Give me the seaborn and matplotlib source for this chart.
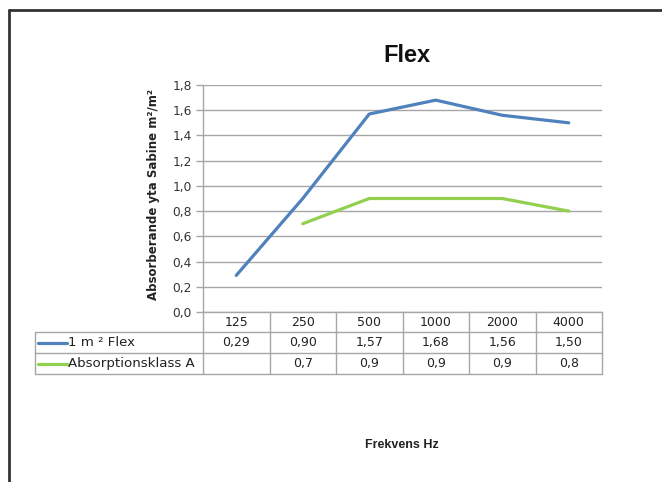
import matplotlib
matplotlib.use("Agg")
import matplotlib.pyplot as plt
import seaborn as sns
import numpy as np
import pandas as pd
from matplotlib.lines import Line2D

# ---- data ----
frequencies = ["125", "250", "500", "1000", "2000", "4000"]
flex_values = [0.29, 0.90, 1.57, 1.68, 1.56, 1.50]
klass_a_values = [np.nan, 0.7, 0.9, 0.9, 0.9, 0.8]
flex_labels = ["0,29", "0,90", "1,57", "1,68", "1,56", "1,50"]
klass_a_labels = ["", "0,7", "0,9", "0,9", "0,9", "0,8"]
series_names = ["1 m ² Flex", "Absorptionsklass A"]
y_ticks = [0.0, 0.2, 0.4, 0.6, 0.8, 1.0, 1.2, 1.4, 1.6, 1.8]

BLUE = "#4F81BD"
GREEN = "#92D050"
GRID = "#A6A6A6"
TXT = "#222222"

sns.set_theme(style="white")
plt.rcParams["font.family"] = ["DejaVu Sans"]

W, H = 662, 482
fig = plt.figure(figsize=(W / 100, H / 100), dpi=100)

def fx(px):
    return px / W

def fy(py):
    return 1 - py / H

ax_left, ax_right, ax_top, ax_bottom = 203, 602, 85, 312
ax = fig.add_axes([fx(ax_left), fy(ax_bottom), fx(ax_right - ax_left), (ax_bottom - ax_top) / H])

pos = np.arange(len(frequencies))
df = pd.DataFrame({
    "pos": np.concatenate([pos, pos]),
    "value": flex_values + klass_a_values,
    "series": [series_names[0]] * len(pos) + [series_names[1]] * len(pos),
})
sns.lineplot(data=df, x="pos", y="value", hue="series",
             palette={series_names[0]: BLUE, series_names[1]: GREEN},
             linewidth=2.3, legend=False, ax=ax)

ax.set_xlim(-0.5, len(frequencies) - 0.5)
ax.set_ylim(0, 1.8)
ax.set_yticks(y_ticks)
ax.set_yticklabels([f"{v:.1f}".replace(".", ",") for v in y_ticks], fontsize=8.8, color="#333333")
ax.set_xticks([])
ax.set_xlabel("")
ax.set_ylabel("")
ax.yaxis.grid(True, color=GRID, linewidth=1)
ax.xaxis.grid(False)
ax.tick_params(axis="y", left=True, length=5, width=1, color=GRID, pad=3)
for s in ["top", "right"]:
    ax.spines[s].set_visible(False)
for s in ["left", "bottom"]:
    ax.spines[s].set_color(GRID)
    ax.spines[s].set_linewidth(1)

# ---- data table below the plot ----
row_edges = [312, 332, 353, 374]
table_left = 35
fig.canvas.draw()
col_edges_px = []
for x in np.arange(-0.5, len(frequencies), 1.0):
    disp = ax.transData.transform((x, 0))
    col_edges_px.append(disp[0] / fig.dpi * 100)

def hline(y, x0, x1):
    fig.add_artist(Line2D([fx(x0), fx(x1)], [fy(y), fy(y)], color=GRID, lw=1))

def vline(x, y0, y1):
    fig.add_artist(Line2D([fx(x), fx(x)], [fy(y0), fy(y1)], color=GRID, lw=1))

hline(row_edges[1], table_left, col_edges_px[-1])
hline(row_edges[2], table_left, col_edges_px[-1])
hline(row_edges[3], table_left, col_edges_px[-1])
vline(table_left, row_edges[1], row_edges[3])
for xe in col_edges_px:
    vline(xe, row_edges[0], row_edges[3])

centers = [(col_edges_px[i] + col_edges_px[i + 1]) / 2 for i in range(len(frequencies))]
row_mid = [(row_edges[i] + row_edges[i + 1]) / 2 for i in range(3)]
for c, lab in zip(centers, frequencies):
    fig.text(fx(c), fy(row_mid[0]), lab, ha="center", va="center", fontsize=9, color=TXT)
for c, lab in zip(centers, flex_labels):
    fig.text(fx(c), fy(row_mid[1]), lab, ha="center", va="center", fontsize=9, color=TXT)
for c, lab in zip(centers, klass_a_labels):
    fig.text(fx(c), fy(row_mid[2]), lab, ha="center", va="center", fontsize=9, color=TXT)

for name, col, ym in zip(series_names, [BLUE, GREEN], row_mid[1:]):
    fig.add_artist(Line2D([fx(38), fx(67)], [fy(ym), fy(ym)], color=col, lw=2.3))
    fig.text(fx(68), fy(ym), name, ha="left", va="center", fontsize=9.6, color=TXT)

# ---- titles ----
fig.text(fx(407), fy(55), "Flex", ha="center", va="center", fontsize=17,
         fontweight="bold", family=["Liberation Sans", "DejaVu Sans"], color="#111111")
fig.text(fx(154), fy(194), "Absorberande yta Sabine m²/m²", rotation=90, ha="center", va="center",
         fontsize=8.5, fontweight="bold", color=TXT)
fig.text(fx(402), fy(445), "Frekvens Hz", ha="center", va="center", fontsize=9,
         fontweight="bold", family=["Liberation Sans", "DejaVu Sans"], color=TXT)

# ---- outer frame ----
fig.add_artist(Line2D([fx(9), 1.0], [fy(10), fy(10)], color="#333333", lw=2))
fig.add_artist(Line2D([fx(9), fx(9)], [fy(10), 0.0], color="#333333", lw=2))

fig.savefig("out.png", dpi=100)
